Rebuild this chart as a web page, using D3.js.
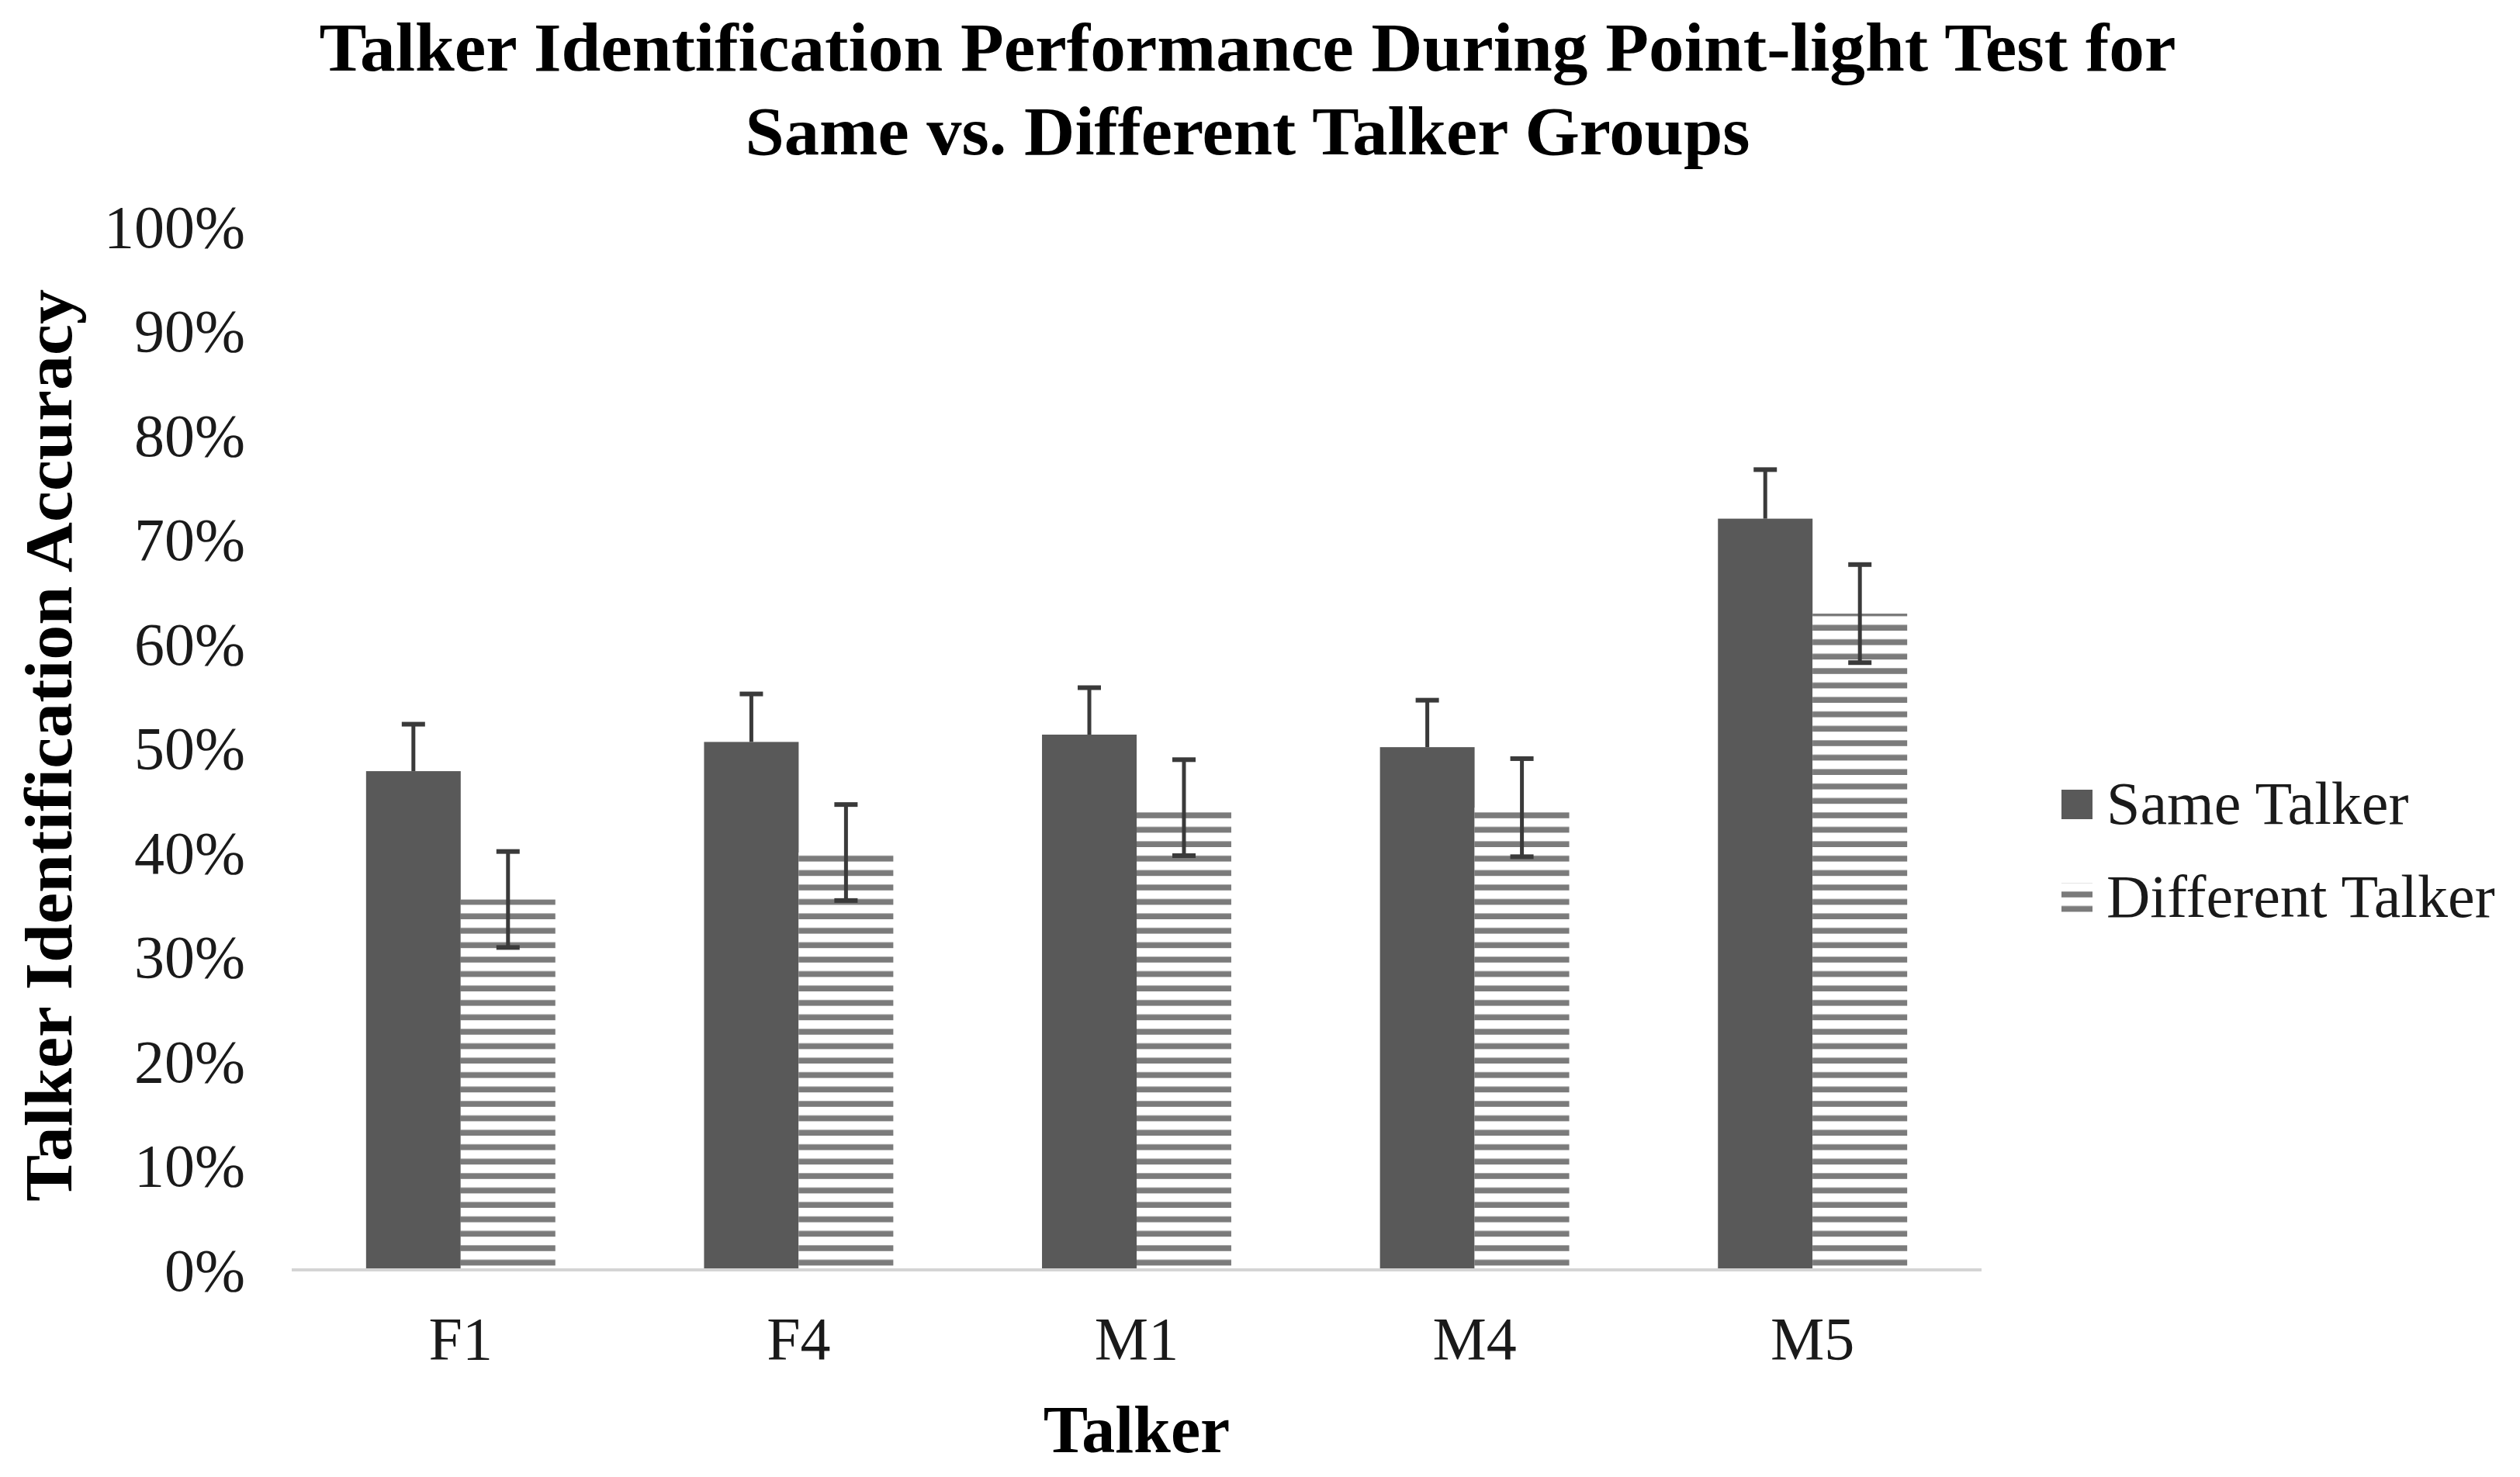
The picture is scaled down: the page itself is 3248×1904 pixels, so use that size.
<!DOCTYPE html>
<html>
<head>
<meta charset="utf-8">
<script src="https://cdn.jsdelivr.net/npm/d3@7"></script>
<style>
  html, body { margin: 0; padding: 0; background: #fff; }
  text { font-family: "Liberation Serif", "Times New Roman", serif; }
</style>
</head>
<body>
<svg id="chart" width="3248" height="1904"></svg>
<script>
// talkers on the x axis
var talkers = ["F1", "F4", "M1", "M4", "M5"];
var seriesNames = ["Same Talker", "Different Talker"];
// accuracy in percent
var sameTalker = [47.8, 50.6, 51.3, 50.1, 72.0];
var differentTalker = [35.5, 40.0, 44.3, 44.3, 62.9];
// error bars (+/- percent)
var sameErr = [4.5, 4.6, 4.5, 4.5, 4.7];
var differentErr = [4.6, 4.6, 4.6, 4.7, 4.7];
var yTicks = [0, 10, 20, 30, 40, 50, 60, 70, 80, 90, 100];
var titleLines = ["Talker Identification Performance During Point-light Test for",
                  "Same vs. Different Talker Groups"];

var svg = d3.select("#chart");
var margin = {left: 376, right: 3248 - 2554, top: 292, bottom: 1904 - 1637};
var width = 3248 - margin.left - margin.right;
var height = 1904 - margin.top - margin.bottom;

var defs = svg.append("defs");
var hatch = defs.append("pattern")
    .attr("id", "hatch")
    .attr("patternUnits", "userSpaceOnUse")
    .attr("width", 10)
    .attr("height", 18.6)
    .attr("y", margin.top + height);
hatch.append("rect").attr("width", 10).attr("height", 18.6).attr("fill", "#fff");
hatch.append("rect").attr("y", 18.6 - 7.5).attr("width", 10).attr("height", 7.5).attr("fill", "#7b7b7b");

var x = d3.scaleBand().domain(talkers).range([0, width]).paddingInner(0).paddingOuter(0);
var y = d3.scaleLinear().domain([0, 100]).range([height, 0]);
var barW = x.bandwidth() * 0.28;

var g = svg.append("g").attr("transform", "translate(" + margin.left + "," + margin.top + ")");

// y tick labels (no gridlines in original)
g.append("g").selectAll("text")
    .data(yTicks)
    .enter().append("text")
    .attr("x", -60)
    .attr("y", function (d) { return y(d); })
    .attr("dy", "0.34em")
    .attr("text-anchor", "end")
    .attr("font-size", 78)
    .attr("fill", "#1a1a1a")
    .text(function (d) { return d + "%"; });

var rows = talkers.map(function (t, i) {
    return {talker: t, same: sameTalker[i], diff: differentTalker[i], sameErr: sameErr[i], diffErr: differentErr[i]};
});

var groups = g.selectAll(".grp")
    .data(rows)
    .enter().append("g")
    .attr("class", "grp")
    .attr("transform", function (d) { return "translate(" + (x(d.talker) + x.bandwidth() / 2) + ",0)"; });

groups.append("rect")
    .attr("x", -barW)
    .attr("y", function (d) { return y(d.same); })
    .attr("width", barW)
    .attr("height", function (d) { return y(0) - y(d.same); })
    .attr("fill", "#595959");

groups.append("rect")
    .attr("x", 0)
    .attr("y", function (d) { return y(d.diff); })
    .attr("width", barW)
    .attr("height", function (d) { return y(0) - y(d.diff); })
    .attr("fill", "url(#hatch)");

// axis line
g.append("line")
    .attr("x1", 0).attr("x2", width)
    .attr("y1", y(0)).attr("y2", y(0))
    .attr("stroke", "#d4d4d4")
    .attr("stroke-width", 4);

var cap = 15;
// same talker error bars: only the upper part shows above the dark bar
var errSame = groups.append("g").attr("stroke", "#3a3a3a").attr("stroke-width", 5);
errSame.append("line")
    .attr("x1", -barW / 2).attr("x2", -barW / 2)
    .attr("y1", function (d) { return y(d.same); })
    .attr("y2", function (d) { return y(d.same + d.sameErr); });
errSame.append("line")
    .attr("x1", -barW / 2 - cap).attr("x2", -barW / 2 + cap)
    .attr("y1", function (d) { return y(d.same + d.sameErr); })
    .attr("y2", function (d) { return y(d.same + d.sameErr); })
    .attr("stroke-width", 6);

var errDiff = groups.append("g").attr("stroke", "#3a3a3a").attr("stroke-width", 5);
errDiff.append("line")
    .attr("x1", barW / 2).attr("x2", barW / 2)
    .attr("y1", function (d) { return y(d.diff - d.diffErr); })
    .attr("y2", function (d) { return y(d.diff + d.diffErr); });
errDiff.selectAll(".cap")
    .data(function (d) { return [d.diff + d.diffErr, d.diff - d.diffErr]; })
    .enter().append("line")
    .attr("x1", barW / 2 - cap).attr("x2", barW / 2 + cap)
    .attr("y1", function (v) { return y(v); })
    .attr("y2", function (v) { return y(v); })
    .attr("stroke-width", 6);

// x tick labels
g.append("g").selectAll("text")
    .data(talkers)
    .enter().append("text")
    .attr("x", function (d) { return x(d) + x.bandwidth() / 2; })
    .attr("y", height + 115)
    .attr("text-anchor", "middle")
    .attr("font-size", 78)
    .attr("fill", "#1a1a1a")
    .text(function (d) { return d; });

// axis titles
svg.append("text")
    .attr("x", margin.left + width / 2)
    .attr("y", 1872)
    .attr("text-anchor", "middle")
    .attr("font-size", 86)
    .attr("font-weight", "bold")
    .text("Talker");

svg.append("text")
    .attr("transform", "translate(92,961) rotate(-90)")
    .attr("text-anchor", "middle")
    .attr("font-size", 86)
    .attr("font-weight", "bold")
    .attr("textLength", 1176)
    .attr("lengthAdjust", "spacingAndGlyphs")
    .text("Talker Identification Accuracy");

// chart title
var titleLens = [2393, 1295];
var titleBase = [91, 199];
svg.selectAll(".title")
    .data(titleLines)
    .enter().append("text")
    .attr("class", "title")
    .attr("x", 1608)
    .attr("y", function (d, i) { return titleBase[i]; })
    .attr("text-anchor", "middle")
    .attr("font-size", 88)
    .attr("font-weight", "bold")
    .attr("textLength", function (d, i) { return titleLens[i]; })
    .attr("lengthAdjust", "spacingAndGlyphs")
    .text(function (d) { return d; });

// legend
var legend = svg.append("g").attr("transform", "translate(2657,1018)");
var items = legend.selectAll("g")
    .data(seriesNames)
    .enter().append("g")
    .attr("transform", function (d, i) { return "translate(0," + i * 120 + ")"; });
items.append("rect")
    .attr("width", 40).attr("height", 38)
    .attr("fill", function (d, i) { return i === 0 ? "#595959" : "url(#hatch)"; });
items.append("text")
    .attr("x", 58)
    .attr("y", 44)
    .attr("font-size", 78)
    .attr("fill", "#1a1a1a")
    .text(function (d) { return d; });
</script>
</body>
</html>
